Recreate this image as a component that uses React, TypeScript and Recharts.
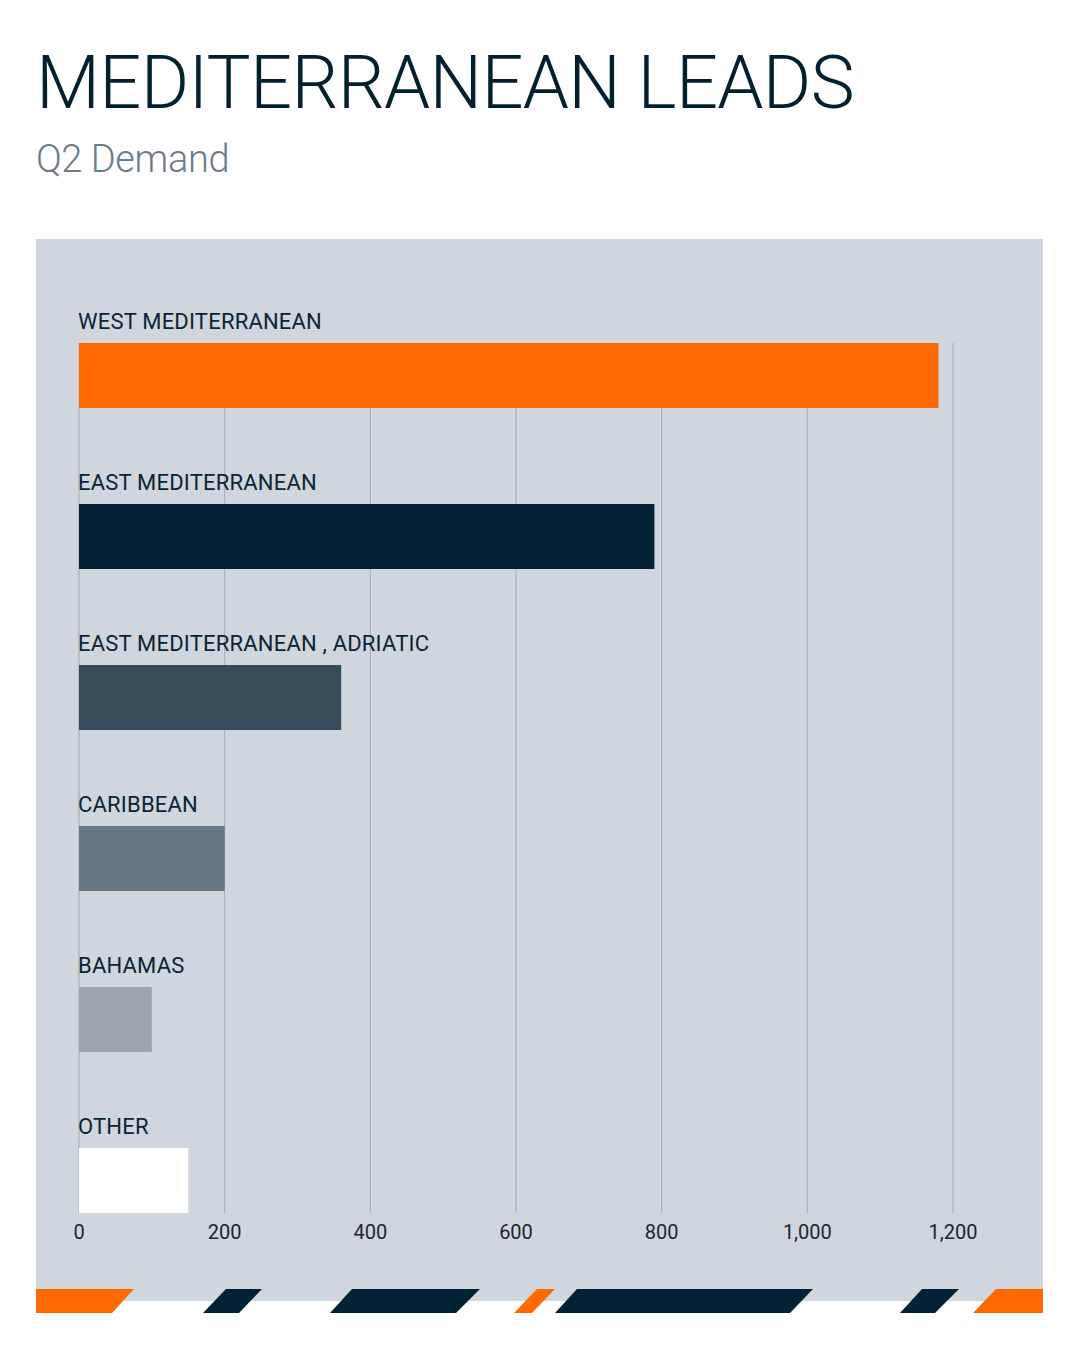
import { BarChart, Bar, XAxis, YAxis, CartesianGrid, Cell, LabelList } from 'recharts';

const regions = [
    'WEST MEDITERRANEAN',
    'EAST MEDITERRANEAN',
    'EAST MEDITERRANEAN , ADRIATIC',
    'CARIBBEAN',
    'BAHAMAS',
    'OTHER',
];
const leads = [1180, 790, 360, 200, 100, 150];
const barColors = ['#ff6a00', '#012135', '#344b5a', '#667784', '#9aa5ac', '#ffffff'];
const xTicks = [0, 200, 400, 600, 800, 1000, 1200];

const data = regions.map((region, i) => ({ region, leads: leads[i], color: barColors[i] }));

// decorative slanted stripes along the bottom of the panel
const STRIPE_TOP = 1289;
const STRIPE_BOTTOM = 1313;
const stripes = [
    { c: '#ff6a00', t: [36, 134], b: [36, 112] },
    { c: '#012135', t: [226, 262], b: [203, 239] },
    { c: '#012135', t: [352, 480], b: [330, 456] },
    { c: '#ff6a00', t: [537, 555], b: [514, 532] },
    { c: '#012135', t: [577, 813], b: [555, 790] },
    { c: '#012135', t: [922, 959], b: [900, 935] },
    { c: '#ff6a00', t: [996, 1043], b: [973, 1043] },
];

const font = 'Roboto, "Noto Sans", sans-serif';

// category name sits above each bar, flush with the zero line
const RegionLabel = ({ x, y, value }: any) => (
    <text x={x - 1} y={y - 14} fill="#0b2435" fontSize={22} letterSpacing={0.2} fontFamily={font}>
        {value}
    </text>
);

export default function App() {
    return (
        <div style={{ position: 'relative', width: 1080, height: 1350, background: '#ffffff', fontFamily: font }}>
            <style>{'body{margin:0}'}</style>

            <div style={{ position: 'absolute', left: 36, top: 239, width: 1007, height: 1062, background: '#cfd6dd' }} />

            <div
                style={{
                    position: 'absolute',
                    left: 36,
                    top: 38,
                    fontSize: 74,
                    fontWeight: 300,
                    letterSpacing: -0.7,
                    color: '#04202f',
                    lineHeight: '90px',
                    whiteSpace: 'nowrap',
                }}
            >
                MEDITERRANEAN LEADS
            </div>
            <div
                style={{
                    position: 'absolute',
                    left: 36,
                    top: 135,
                    fontSize: 38,
                    fontWeight: 300,
                    letterSpacing: -0.4,
                    color: '#6b7c8a',
                    lineHeight: '48px',
                    whiteSpace: 'nowrap',
                }}
            >
                Q2 Demand
            </div>

            <div style={{ position: 'absolute', left: 0, top: 0 }}>
                <BarChart
                    width={1080}
                    height={1350}
                    data={data}
                    layout="vertical"
                    margin={{ top: 343, right: 127, bottom: 107, left: 79 }}
                    barSize={65}
                >
                    <CartesianGrid horizontal={false} stroke="#a3abb2" />
                    <XAxis
                        type="number"
                        dataKey="leads"
                        domain={[0, 1200]}
                        ticks={xTicks}
                        height={30}
                        axisLine={false}
                        tickLine={false}
                        tickMargin={6}
                        tick={{ fill: '#1b2631', fontSize: 20, fontFamily: font }}
                        tickFormatter={(v: number) => v.toLocaleString('en-US')}
                    />
                    <YAxis
                        type="category"
                        dataKey="region"
                        width={0}
                        axisLine={false}
                        tickLine={false}
                        tick={false}
                        padding={{ top: -48, bottom: -48 }}
                    />
                    <Bar dataKey="leads" isAnimationActive={false}>
                        {data.map((entry, index) => (
                            <Cell key={`cell-${index}`} fill={entry.color} />
                        ))}
                        <LabelList dataKey="region" content={<RegionLabel />} />
                    </Bar>
                </BarChart>
            </div>

            <svg
                width={1080}
                height={1350}
                style={{ position: 'absolute', left: 0, top: 0, pointerEvents: 'none' }}
            >
                {stripes.map((s, i) => (
                    <polygon
                        key={i}
                        fill={s.c}
                        points={`${s.t[0]},${STRIPE_TOP} ${s.t[1]},${STRIPE_TOP} ${s.b[1]},${STRIPE_BOTTOM} ${s.b[0]},${STRIPE_BOTTOM}`}
                    />
                ))}
            </svg>
        </div>
    );
}
